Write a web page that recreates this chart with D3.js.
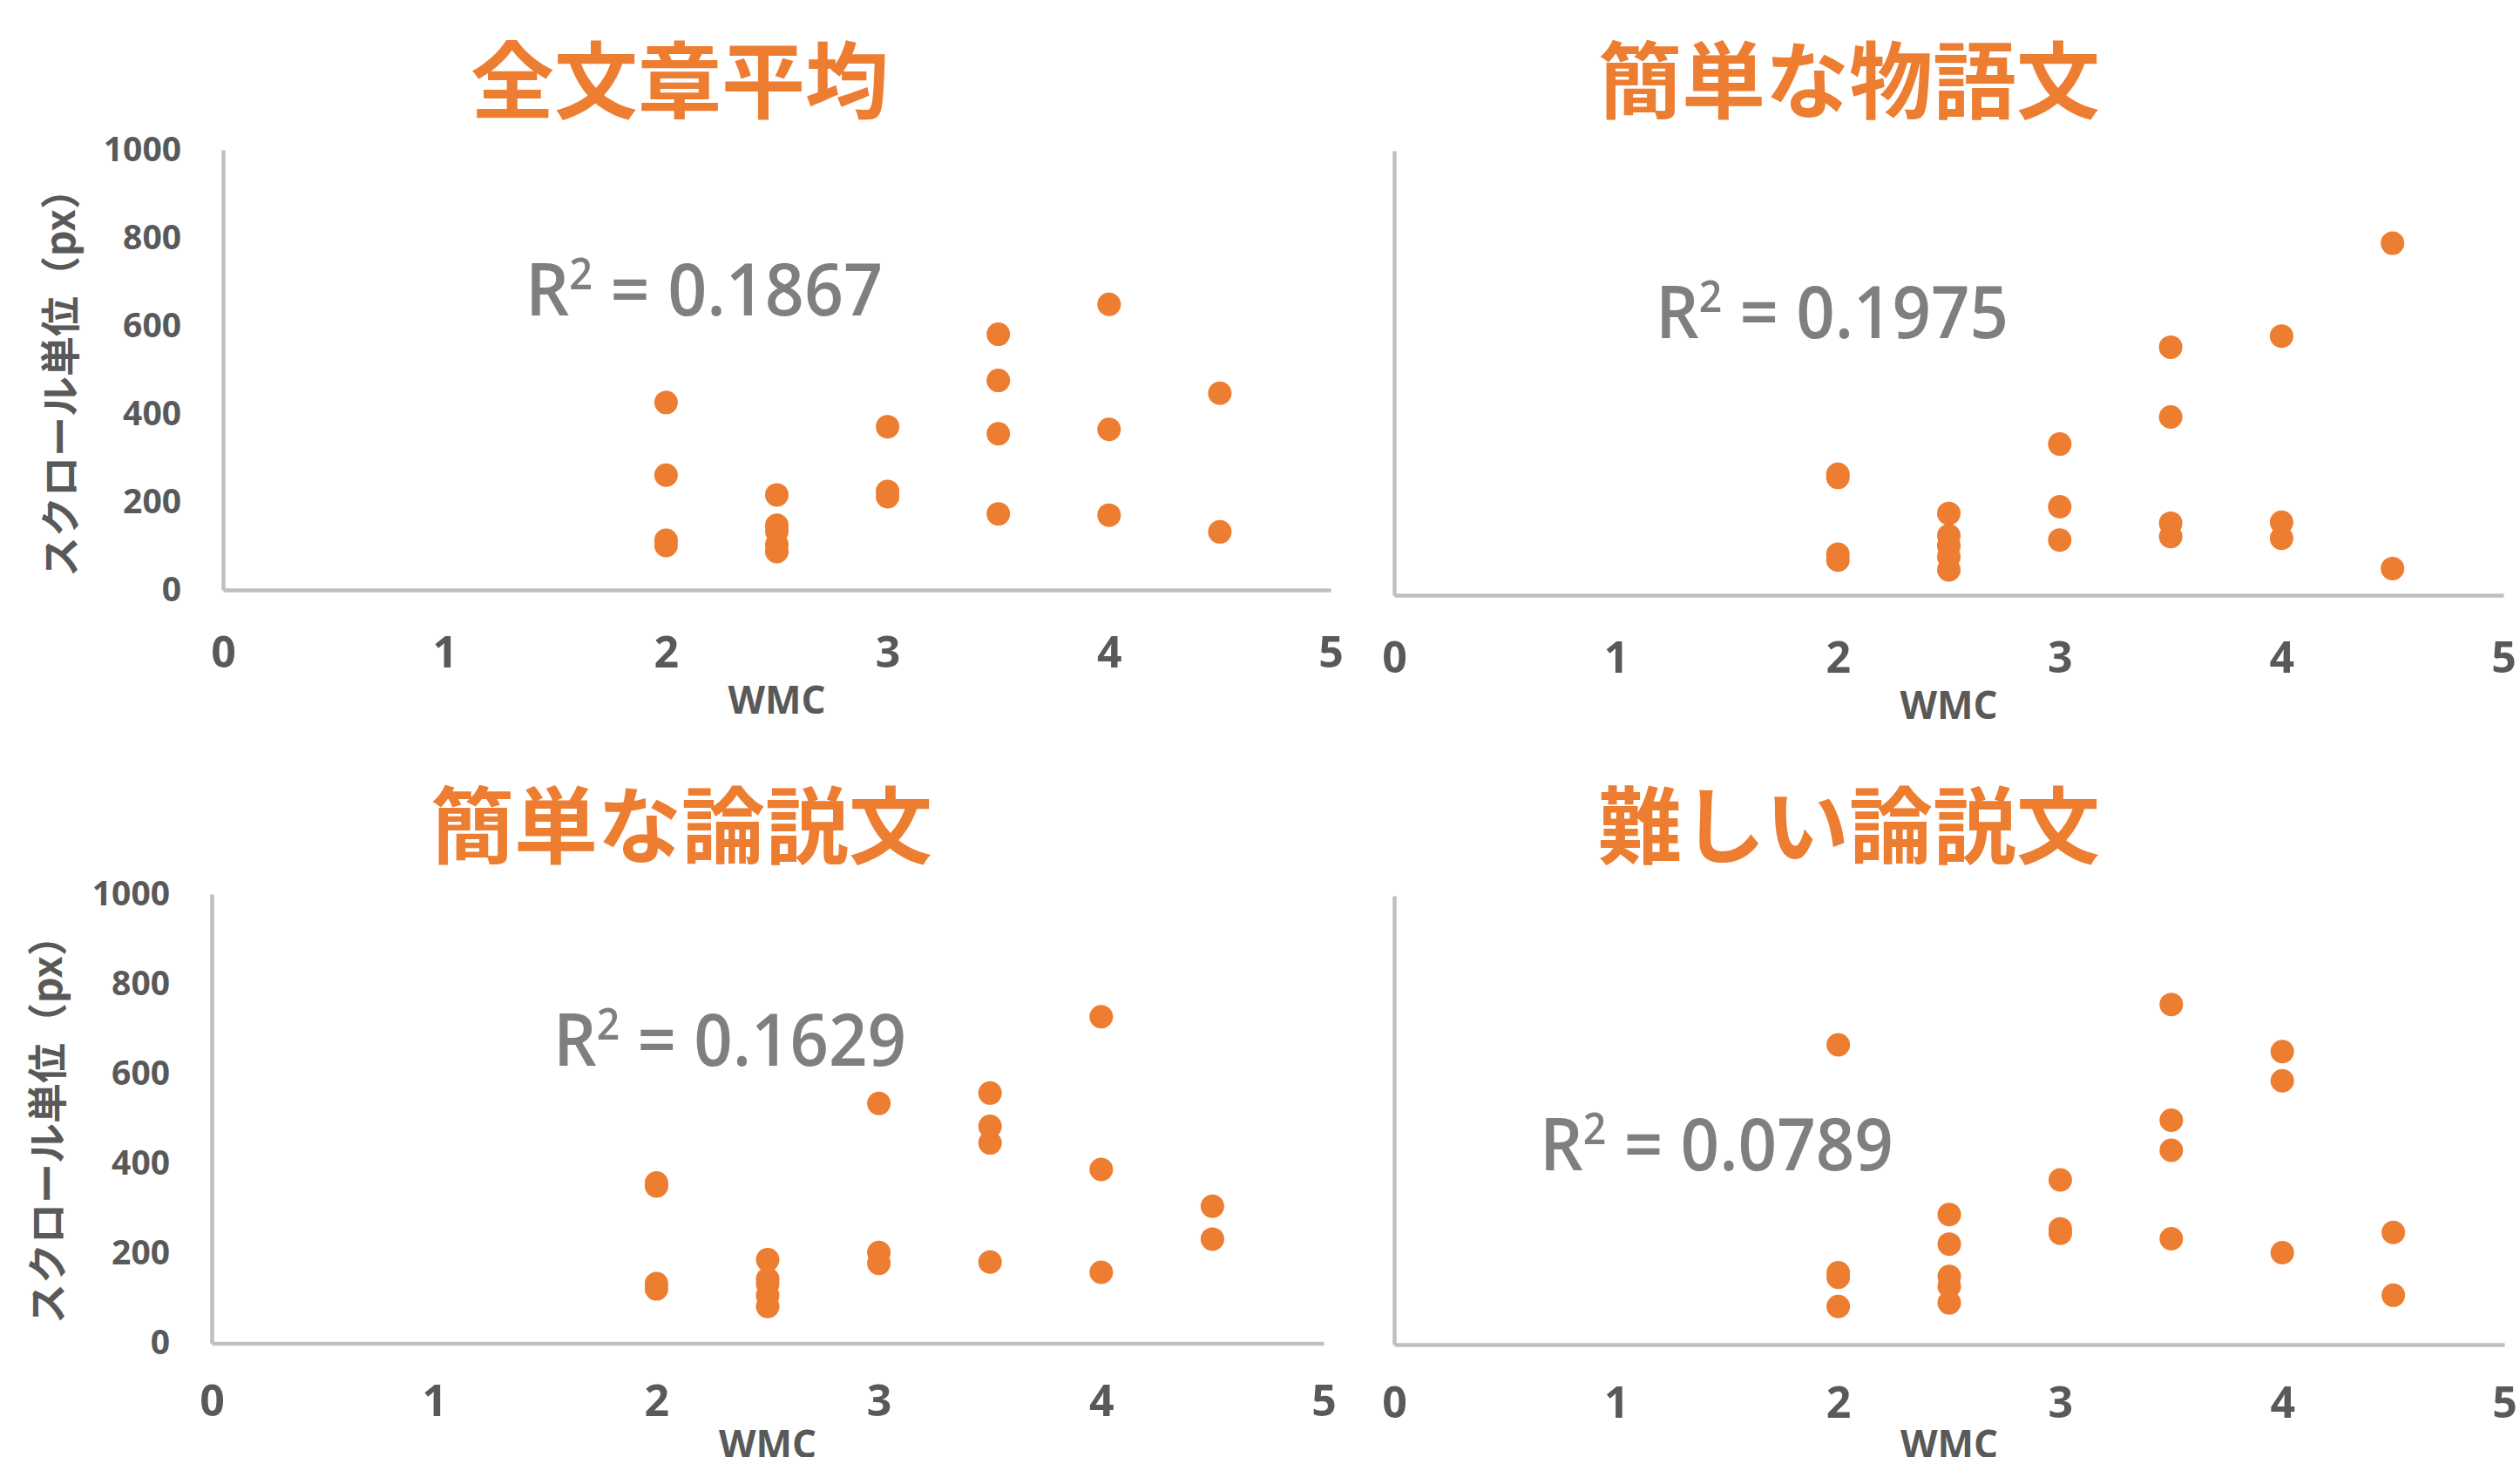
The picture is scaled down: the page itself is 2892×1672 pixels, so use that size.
<!DOCTYPE html>
<html>
<head>
<meta charset="utf-8">
<script src="https://cdn.jsdelivr.net/npm/d3@7"></script>
<style>
  body { margin: 0; background: #fff; }
  svg { display: block; }
</style>
</head>
<body>
<svg id="chart" width="2892" height="1672"></svg>
<script>
// tick values shared by all four panels
const xTicks = [0, 1, 2, 3, 4, 5];
const yTicks = [0, 200, 400, 600, 800, 1000];

// [WMC, scroll units (px)]
const allText = [
  [2, 426], [2, 261], [2, 113], [2, 101],
  [2.5, 216], [2.5, 147], [2.5, 133], [2.5, 103], [2.5, 87],
  [3, 371], [3, 224], [3, 212],
  [3.5, 581], [3.5, 476], [3.5, 355], [3.5, 173],
  [4, 649], [4, 365], [4, 170],
  [4.5, 447], [4.5, 132]
];
const easyStory = [
  [2, 272], [2, 265], [2, 92], [2, 79],
  [2.5, 184], [2.5, 134], [2.5, 111], [2.5, 86], [2.5, 57],
  [3, 340], [3, 199], [3, 124],
  [3.5, 558], [3.5, 401], [3.5, 162], [3.5, 132],
  [4, 583], [4, 164], [4, 128],
  [4.5, 792], [4.5, 60]
];
const easyEssay = [
  [2, 357], [2, 350], [2, 133], [2, 121],
  [2.5, 186], [2.5, 143], [2.5, 132], [2.5, 106], [2.5, 82],
  [3, 534], [3, 202], [3, 178],
  [3.5, 557], [3.5, 483], [3.5, 446], [3.5, 181],
  [4, 727], [4, 387], [4, 158],
  [4.5, 305], [4.5, 232]
];
const hardEssay = [
  [2, 668], [2, 160], [2, 150], [2, 85],
  [2.5, 290], [2.5, 224], [2.5, 152], [2.5, 130], [2.5, 93],
  [3, 367], [3, 258], [3, 248],
  [3.5, 758], [3.5, 500], [3.5, 433], [3.5, 236],
  [4, 653], [4, 588], [4, 205],
  [4.5, 250], [4.5, 110]
];

const titles = ["全文章平均", "簡単な物語文", "簡単な論説文", "難しい論説文"];
const r2Values = ["0.1867", "0.1975", "0.1629", "0.0789"];

const ORANGE = "#ED7D31",
    AXIS_GREY = "#bfbfbf",
    LABEL_GREY = "#595959",
    R2_GREY = "#7f7f7f";

const svg = d3.select("#chart");

// pixel boxes of each plot area + where its texts sit
const panels = [
  {data: allText, box: {l: 256, r: 1527, t: 172, b: 677}, title: [780, 86], r2: [603, 362, 410],
    yLabels: true, yTitle: [66, 428], xPad: 53, wmcY: 802},
  {data: easyStory, box: {l: 1600, r: 2873, t: 173, b: 683}, title: [2122, 86], r2: [1900, 388, 405],
    yLabels: false, xPad: 53, wmcY: 808},
  {data: easyEssay, box: {l: 243, r: 1519, t: 1026, b: 1541.5}, title: [782, 941], r2: [635, 1223, 405],
    yLabels: true, yTitle: [51, 1285], xPad: 48, wmcY: 1656},
  {data: hardEssay, box: {l: 1600, r: 2874, t: 1028, b: 1543}, title: [2122, 941], r2: [1767, 1343, 406],
    yLabels: false, xPad: 48, wmcY: 1656}
];

panels.forEach((p, i) => {
  let box = p.box;
  let xScale = d3.scaleLinear().domain([0, 5]).range([box.l, box.r]),
      yScale = d3.scaleLinear().domain([0, 1000]).range([box.b, box.t]);

  // title
  svg.append("text")
      .attr("x", p.title[0])
      .attr("y", p.title[1])
      .attr("text-anchor", "middle")
      .attr("dominant-baseline", "central")
      .attr("font-family", "'Noto Sans CJK JP', sans-serif")
      .attr("font-weight", "bold")
      .attr("font-size", 96)
      .attr("fill", ORANGE)
      .text(titles[i]);

  // y axis
  let yAxis = d3.axisLeft(yScale)
      .tickValues(p.yLabels ? yTicks : [])
      .tickFormat(d3.format("d"))
      .tickSize(0)
      .tickPadding(48);
  let gy = svg.append("g")
      .attr("transform", "translate(" + box.l + ",0)")
      .call(yAxis);
  gy.select(".domain").attr("stroke", AXIS_GREY).attr("stroke-width", 4.5);
  gy.selectAll("text")
      .attr("font-family", "'Open Sans', sans-serif")
      .attr("font-weight", "bold")
      .attr("font-size", 39)
      .attr("fill", LABEL_GREY);

  // x axis
  let xAxis = d3.axisBottom(xScale)
      .tickValues(xTicks)
      .tickFormat(d3.format("d"))
      .tickSize(0)
      .tickPadding(p.xPad);
  let gx = svg.append("g")
      .attr("transform", "translate(0," + box.b + ")")
      .call(xAxis);
  gx.select(".domain").attr("stroke", AXIS_GREY).attr("stroke-width", 4.5);
  gx.selectAll("text")
      .attr("font-family", "'Open Sans', sans-serif")
      .attr("font-weight", "bold")
      .attr("font-size", 50)
      .attr("fill", LABEL_GREY);

  // axis titles
  svg.append("text")
      .attr("x", (box.l + box.r) / 2)
      .attr("y", p.wmcY)
      .attr("text-anchor", "middle")
      .attr("dominant-baseline", "central")
      .attr("font-family", "'Open Sans', sans-serif")
      .attr("font-weight", "bold")
      .attr("font-size", 44)
      .attr("fill", LABEL_GREY)
      .text("WMC");

  if (p.yTitle) {
    svg.append("text")
        .attr("transform", "translate(" + p.yTitle[0] + "," + p.yTitle[1] + ")rotate(-90)")
        .attr("text-anchor", "middle")
        .attr("dominant-baseline", "central")
        .attr("font-family", "'Noto Sans CJK JP', sans-serif")
        .attr("font-weight", "bold")
        .attr("font-size", 46)
        .attr("fill", LABEL_GREY)
        .text("スクロール単位（px）");
  }

  // points
  svg.append("g").selectAll("circle").data(p.data)
      .enter()
      .append("circle")
      .attr("cx", d => xScale(d[0]))
      .attr("cy", d => yScale(d[1]))
      .attr("r", 13.5)
      .attr("fill", ORANGE);

  // R² label
  let r2 = svg.append("text")
      .attr("x", p.r2[0])
      .attr("y", p.r2[1])
      .attr("textLength", p.r2[2])
      .attr("lengthAdjust", "spacingAndGlyphs")
      .attr("font-family", "'Open Sans', sans-serif")
      .attr("font-weight", 600)
      .attr("font-size", 84)
      .attr("fill", R2_GREY);
  r2.append("tspan").text("R");
  r2.append("tspan").attr("font-size", 50).attr("dy", -30).text("2");
  r2.append("tspan").attr("dy", 30).text(" = " + r2Values[i]);
});
</script>
</body>
</html>
